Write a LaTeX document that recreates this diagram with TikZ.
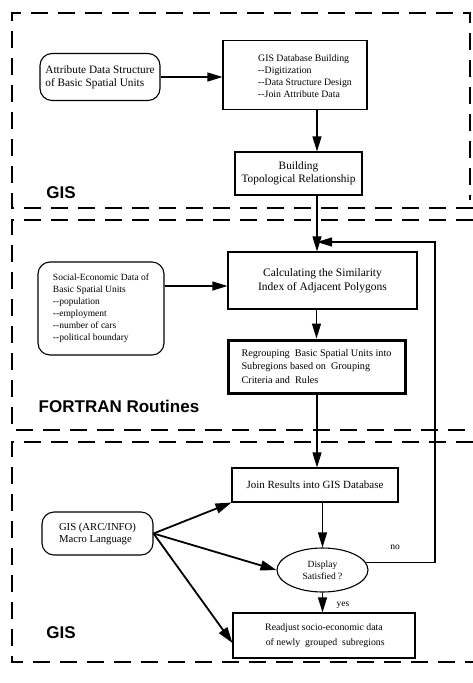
\documentclass[tikz,border=0pt]{standalone}
\usepackage{fontspec}
\setmainfont{Liberation Serif}
\newfontfamily\tagfont{Liberation Sans}
\usetikzlibrary{arrows.meta,shapes.geometric}

\begin{document}
\begin{tikzpicture}[x=1pt,y=-1pt,
  fs/.style 2 args={font=\fontsize{#1}{#2}\selectfont},
  box/.style={draw, line width=1.1pt, rectangle, inner sep=0pt, fs={9.5}{12}},
  rbox/.style={box, rounded corners=12pt, align=left},
  txt/.style={inner sep=0pt, fs={9.5}{12}},
  arr/.style={line width=1.1pt, -{Triangle[length=15pt,width=9pt]}},
  heavyarr/.style={line width=1.8pt, -{Triangle[length=16pt,width=10pt]}},
  region/.style={line width=1.3pt, dash pattern=on 17pt off 10pt},
  tag/.style={inner sep=0pt, font=\tagfont\bfseries\fontsize{17}{17}\selectfont}]

\useasboundingbox (0,0) rectangle (473,683);

% dashed regions
\draw[region] (473,208) -| (12,13) -| (470,200);
\draw[region] (473,220) -- (12,220) -- (12,430) -- (473,430);
\draw[region] (473,442) -- (12,442) -- (12,662) -- (473,662);

% region labels
\node[tag] (tgis1) at (61,193) {GIS};
\node[tag] (tfort) at (119,406) {FORTRAN Routines};
\node[tag] (tgis2) at (61,633) {GIS};

% vertical spine and feedback column
\coordinate (spine) at (317,0);
\coordinate (fbx) at (435,0);
\coordinate (fbtop) at (435,242);

% top block
\node[rbox, fs={11.3}{13}, minimum width=120, minimum height=47] (attr) at (100,77)
  {Attribute Data Structure\\of Basic Spatial Units};
\node[box, minimum width=144, minimum height=69] (gisdb) at (295,75) {};
\node[txt, anchor=west, align=left, fs={9.8}{12}]
  (gisdbtext) at (258,76.5)
  {GIS Database Building\\-{}-Digitization\\-{}-Data Structure Design\\-{}-Join Attribute Data};
\node[box, fs={11.3}{13}, minimum width=127, minimum height=43, align=center] (topo) at (298.5,173.5)
  {Building\\Topological Relationship};

% middle block
\node[rbox, minimum width=126, minimum height=93] (social) at (101,308.5)
  {Social-Economic Data of\\Basic Spatial Units\\-{}-population\\-{}-employment\\-{}-number of cars\\-{}-political boundary};
\node[box, fs={11.5}{14}, minimum width=189, minimum height=57, align=center] (calc) at (322.5,280.5)
  {Calculating the Similarity\\Index of Adjacent Polygons};
\node[box, fs={10.2}{13.5}, line width=3pt, minimum width=177, minimum height=53, align=left] (regroup) at (316.5,366.5)
  {Regrouping\ \ Basic Spatial Units into\\Subregions based on\ \ Grouping\\Criteria and\ \ Rules};

% bottom block
\node[box, fs={11}{13}, minimum width=166, minimum height=34] (join) at (315,485)
  {Join Results into GIS Database};
\node[rbox, fs={10.7}{12}, minimum width=111, minimum height=43] (macro) at (97.5,533.5)
  {GIS (ARC/INFO)\\Macro Language};
\node[draw, ellipse, line width=1.1pt, inner sep=0pt, minimum width=91, minimum height=44,
  align=center, fs={9.5}{12}] (disp) at (322.5,570)
  {Display\\Satisfied ?};
\node[box, fs={9.8}{15}, minimum width=182, minimum height=45, align=center] (readj) at (324,635.5)
  {Readjust socio-economic data\\\ of newly\ \ grouped\ \ subregions};

% connectors
\draw[arr] (attr.east) -- (gisdb.west |- attr.east);
\draw[arr] (gisdb.south -| spine) -- (topo.north -| spine);
\draw[arr] (topo.south -| spine) -- (calc.north -| spine);
\draw[arr] (disp.10) -- (disp.10 -| fbx) -- (fbtop) -- (fbtop -| spine);
\draw[arr] (social.east |- 0,286) -- (calc.west |- 0,286);
\draw[arr] (calc.south -| regroup.south) -- (regroup.north);
\draw[arr] (regroup.south -| spine) -- (join.north -| spine);
\draw[arr] (join.south -| disp.north) -- (disp.north);
\draw[arr] (disp.south) -- (readj.north -| disp.south);
\draw[heavyarr] (macro.east) -- (join.south west);
\draw[heavyarr] (macro.east) -- (disp.west);
\draw[heavyarr] (macro.east) -- (readj.west |- 0,643);

% branch labels
\node[txt] (lno) at (395,547) {no};
\node[txt] (lyes) at (343,605) {yes};
\end{tikzpicture}
\end{document}
